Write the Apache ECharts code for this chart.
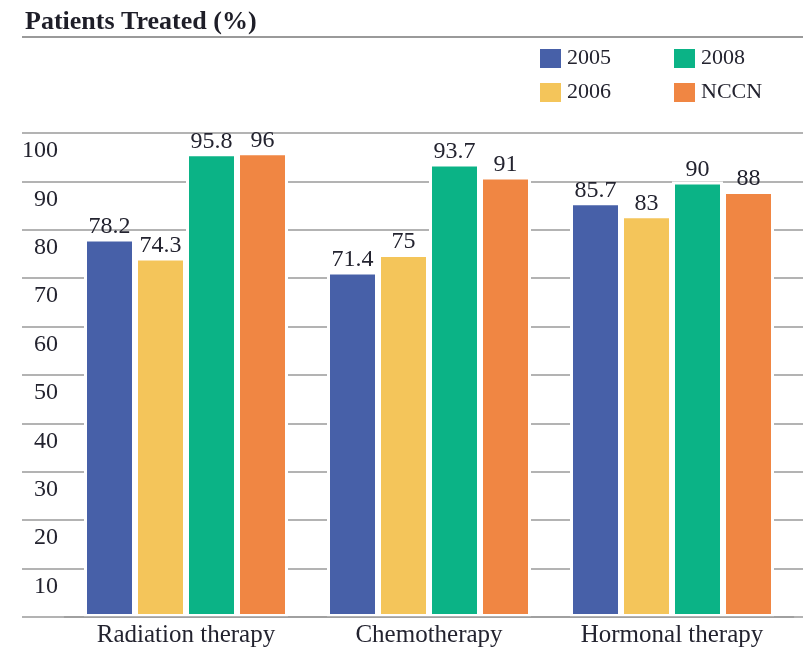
<!DOCTYPE html>
<html>
<head>
<meta charset="utf-8">
<script src="https://cdn.jsdelivr.net/npm/echarts@6/dist/echarts.min.js"></script>
<style>
  html, body { margin: 0; padding: 0; background: #fff; }
  #chart { width: 807px; height: 649px; }
</style>
</head>
<body>
<div id="chart"></div>
<script>
// Share of patients treated, by therapy type
const categories = ['Radiation therapy', 'Chemotherapy', 'Hormonal therapy'];
const seriesNames = ['2005', '2006', '2008', 'NCCN'];
const values2005 = [78.2, 71.4, 85.7];
const values2006 = [74.3, 75, 83];
const values2008 = [95.8, 93.7, 90];
const valuesNCCN = [96, 91, 88];
const yTicks = [0, 10, 20, 30, 40, 50, 60, 70, 80, 90, 100];

const colors = ['#4760A8', '#F4C55A', '#0BB386', '#F08643'];
const serif = '"Liberation Serif", "DejaVu Serif", serif';
const textColor = '#23232f';
const ruleColor = '#9a9a9a';

const seriesValues = [values2005, values2006, values2008, valuesNCCN];

const chart = echarts.init(document.getElementById('chart'), null, { renderer: 'canvas' });

const gridTop = 133, gridBottom = 32;

const legendBase = {
  orient: 'vertical',
  top: 47,
  padding: 0,
  icon: 'rect',
  itemWidth: 23, itemHeight: 21, itemGap: 11,
  textStyle: { fontFamily: serif, fontSize: 22, color: textColor }
};

chart.setOption({
  backgroundColor: '#fff',
  animation: false,
  title: {
    text: 'Patients Treated (%)',
    left: 20,
    top: 4,
    textStyle: { fontFamily: serif, fontSize: 26, fontWeight: 'bold', color: '#1e1e28' }
  },
  legend: [
    Object.assign({}, legendBase, { data: [seriesNames[0], seriesNames[1]], left: 538 }),
    Object.assign({}, legendBase, { data: [seriesNames[2], seriesNames[3]], left: 672 })
  ],
  graphic: [
    {
      type: 'line',
      shape: { x1: 22, y1: 37, x2: 803, y2: 37 },
      style: { stroke: ruleColor, lineWidth: 2 }
    }
  ],
  grid: [
    // full-width grid carrying the value scale and its rules
    { left: 22, right: 4, top: gridTop, bottom: gridBottom },
    // grid holding the bar groups
    { left: 64.5, right: 13.5, top: gridTop, bottom: gridBottom }
  ],
  xAxis: [
    { gridIndex: 0, type: 'value', show: false, min: 0, max: 1 },
    {
      gridIndex: 1,
      type: 'category',
      data: categories,
      z: 5,
      axisLine: { show: true, lineStyle: { color: ruleColor, width: 1.5 } },
      axisTick: { show: false },
      axisLabel: { fontFamily: serif, fontSize: 25, color: textColor, margin: 6 }
    }
  ],
  yAxis: [
    {
      gridIndex: 0,
      type: 'value',
      min: yTicks[0],
      max: yTicks[yTicks.length - 1],
      interval: 10,
      axisLine: { show: false },
      axisTick: { show: false },
      splitLine: { lineStyle: { color: ruleColor, width: 1.5 } },
      axisLabel: {
        inside: true,
        showMinLabel: false,
        align: 'right',
        verticalAlign: 'top',
        margin: 36,
        padding: [6, 0, 0, 0],
        fontFamily: serif,
        fontSize: 24,
        color: textColor
      }
    },
    {
      gridIndex: 1,
      type: 'value',
      min: yTicks[0],
      max: yTicks[yTicks.length - 1],
      show: false,
      splitLine: { show: false }
    }
  ],
  series: seriesNames.map((name, i) => ({
    name: name,
    type: 'bar',
    xAxisIndex: 1,
    yAxisIndex: 1,
    data: seriesValues[i],
    barWidth: 51,
    barGap: '0%',
    itemStyle: { color: colors[i], borderColor: '#fff', borderWidth: 3 },
    label: {
      show: true,
      position: 'top',
      distance: 0,
      fontFamily: serif,
      fontSize: 24,
      color: textColor
    }
  }))
});
</script>
</body>
</html>
